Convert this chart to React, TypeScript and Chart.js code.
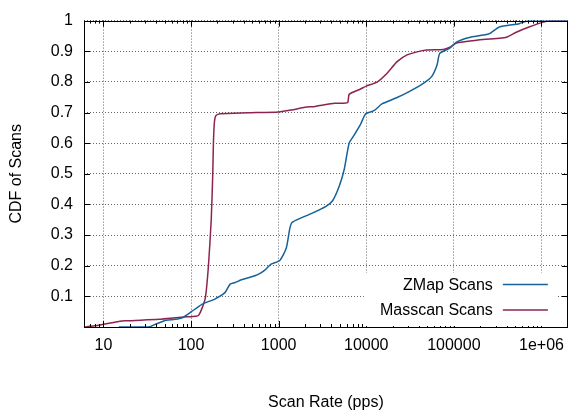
import React, { useEffect, useRef } from 'react';
import { Chart, registerables } from 'chart.js';

Chart.register(...registerables);

// ---- data ----
const zmapRate = [15, 33, 40, 52, 66, 78, 100, 133, 189, 245, 279, 318, 375, 480, 585, 690, 820, 1030, 1220, 1340, 1420, 1810, 2350, 3470, 4130, 4920, 5600, 6380, 7270, 8650, 9860, 12250, 15100, 22500, 31600, 45700, 56000, 64400, 69000, 89000, 107000, 150000, 253000, 330000, 556000, 720000, 2000000];
const zmapCdf = [0, 0, 0.01, 0.022, 0.025, 0.029, 0.049, 0.074, 0.092, 0.113, 0.14, 0.145, 0.154, 0.163, 0.172, 0.185, 0.205, 0.217, 0.257, 0.321, 0.341, 0.356, 0.37, 0.394, 0.412, 0.46, 0.514, 0.6, 0.626, 0.663, 0.696, 0.706, 0.728, 0.749, 0.77, 0.797, 0.818, 0.856, 0.893, 0.909, 0.93, 0.945, 0.957, 0.979, 0.99, 1.0, 1.0];

const masscanRate = [6, 8, 10, 14.4, 18, 43, 78, 113, 122, 133, 146, 158, 170, 177, 180, 185, 192, 215, 446, 1000, 1380, 2000, 2600, 4350, 6100, 6400, 8500, 10000, 13400, 17500, 22500, 29200, 38000, 49000, 76000, 93000, 107000, 182000, 400000, 516000, 720000, 1050000, 1350000, 2000000];
const masscanCdf = [0, 0.004, 0.009, 0.017, 0.02, 0.025, 0.032, 0.035, 0.038, 0.06, 0.097, 0.2, 0.35, 0.5, 0.6, 0.67, 0.69, 0.696, 0.699, 0.702, 0.708, 0.717, 0.72, 0.73, 0.732, 0.76, 0.776, 0.786, 0.8, 0.83, 0.866, 0.888, 0.898, 0.904, 0.906, 0.915, 0.927, 0.936, 0.946, 0.962, 0.979, 0.995, 1.0, 1.0];

const seriesLabels = ['ZMap Scans', 'Masscan Scans'];
const seriesColors = ['#15629a', '#8b2450'];

const xTickValues = [10, 100, 1000, 10000, 100000, 1000000];
const xTickLabels = ['10', '100', '1000', '10000', '100000', '1e+06'];
const yTickValues = [0, 0.1, 0.2, 0.3, 0.4, 0.5, 0.6, 0.7, 0.8, 0.9, 1];
const yTickLabels = ['', '0.1', '0.2', '0.3', '0.4', '0.5', '0.6', '0.7', '0.8', '0.9', '1'];

const xTitle = 'Scan Rate (pps)';
const yTitle = 'CDF of Scans';

const FONT_FAMILY = '"Liberation Sans", Arial, Helvetica, sans-serif';
const FONT_SIZE = 16;

const framePlugin = {
  id: 'gnuplotFrame',
  afterDraw(chart: any) {
    const ctx = chart.ctx;
    const { left, right, top, bottom } = chart.chartArea;
    const xs = chart.scales.x;
    const ys = chart.scales.y;
    ctx.save();
    ctx.strokeStyle = '#000';
    ctx.lineWidth = 1;
    // tick marks (inward, mirrored)
    ctx.beginPath();
    const major = 6;
    const minor = 3;
    for (let d = 1; d <= 6; d++) {
      for (let m = 1; m <= 9; m++) {
        const v = m * Math.pow(10, d);
        const px = Math.round(xs.getPixelForValue(v)) + 0.5;
        if (px < left || px > right) continue;
        const len = m === 1 ? major : minor;
        ctx.moveTo(px, bottom);
        ctx.lineTo(px, bottom - len);
        ctx.moveTo(px, top);
        ctx.lineTo(px, top + len);
      }
    }
    // minor ticks below 10
    for (let m = 6; m <= 9; m++) {
      const px = Math.round(xs.getPixelForValue(m)) + 0.5;
      if (px < left) continue;
      ctx.moveTo(px, bottom);
      ctx.lineTo(px, bottom - minor);
      ctx.moveTo(px, top);
      ctx.lineTo(px, top + minor);
    }
    for (const v of yTickValues) {
      const py = Math.round(ys.getPixelForValue(v)) + 0.5;
      ctx.moveTo(left, py);
      ctx.lineTo(left + major, py);
      ctx.moveTo(right, py);
      ctx.lineTo(right - major, py);
    }
    ctx.stroke();

    // legend (opaque key box in lower right)
    const boxL = right - 204;
    const boxR = right - 10;
    const boxT = bottom - 54;
    ctx.fillStyle = '#fff';
    ctx.fillRect(boxL, boxT, boxR - boxL, bottom - boxT - 1);
    ctx.font = `${FONT_SIZE}px ${FONT_FAMILY}`;
    ctx.textAlign = 'right';
    ctx.textBaseline = 'middle';
    const rows = [bottom - 42.5, bottom - 17];
    seriesLabels.forEach((lab, i) => {
      const y = rows[i];
      ctx.fillStyle = '#000';
      ctx.fillText(lab, right - 75, y + 1);
      ctx.strokeStyle = seriesColors[i];
      ctx.lineWidth = 1.5;
      ctx.beginPath();
      ctx.moveTo(right - 65, y);
      ctx.lineTo(right - 20, y);
      ctx.stroke();
    });

    // border
    ctx.strokeStyle = '#000';
    ctx.lineWidth = 1;
    ctx.strokeRect(Math.round(left) + 0.5, Math.round(top) + 0.5, Math.round(right - left) - 1, Math.round(bottom - top));
    ctx.restore();
  },
};

export default function App() {
  const canvasRef = useRef<HTMLCanvasElement | null>(null);

  useEffect(() => {
    if (!canvasRef.current) return;
    const font = { family: FONT_FAMILY, size: FONT_SIZE };
    const chart = new Chart(canvasRef.current, {
      type: 'scatter',
      data: {
        datasets: [
          {
            label: seriesLabels[0],
            data: zmapRate.map((x, i) => ({ x, y: zmapCdf[i] })),
            borderColor: seriesColors[0],
            backgroundColor: seriesColors[0],
            borderWidth: 1.5,
            showLine: true,
            pointRadius: 0,
            tension: 0.2,
          },
          {
            label: seriesLabels[1],
            data: masscanRate.map((x, i) => ({ x, y: masscanCdf[i] })),
            borderColor: seriesColors[1],
            backgroundColor: seriesColors[1],
            borderWidth: 1.5,
            showLine: true,
            pointRadius: 0,
            tension: 0.2,
          },
        ],
      },
      options: {
        responsive: false,
        maintainAspectRatio: false,
        animation: false,
        layout: { padding: { top: 15, right: 1, left: 0, bottom: 0 } },
        plugins: { legend: { display: false }, tooltip: { enabled: false } },
        scales: {
          x: {
            type: 'logarithmic',
            min: 6,
            max: 2000000,
            afterBuildTicks: (s: any) => {
              s.ticks = xTickValues.map((v) => ({ value: v }));
            },
            afterFit: (s: any) => {
              s.height = 88;
            },
            ticks: {
              autoSkip: false,
              maxRotation: 0,
              color: '#000',
              font,
              padding: 9,
              callback: (v: any) => {
                const i = xTickValues.indexOf(Number(v));
                return i >= 0 ? xTickLabels[i] : '';
              },
            },
            grid: { drawTicks: false, color: 'rgba(0,0,0,0.6)', lineWidth: 1 },
            border: { display: false, dash: [1, 2] },
            title: {
              display: true,
              text: xTitle,
              color: '#000',
              font,
              padding: { top: 0, bottom: 2.5 },
            },
          },
          y: {
            type: 'linear',
            min: 0,
            max: 1,
            afterBuildTicks: (s: any) => {
              s.ticks = yTickValues.map((v) => ({ value: v }));
            },
            afterFit: (s: any) => {
              s.width = 84;
            },
            ticks: {
              color: '#000',
              font,
              padding: 11,
              callback: (v: any) => {
                const i = yTickValues.findIndex((t) => Math.abs(t - Number(v)) < 1e-9);
                return i >= 0 ? yTickLabels[i] : '';
              },
            },
            grid: { drawTicks: false, color: 'rgba(0,0,0,0.6)', lineWidth: 1 },
            border: { display: false, dash: [1, 2] },
            title: {
              display: true,
              text: yTitle,
              color: '#000',
              font,
              padding: { top: 7.4, bottom: 0 },
            },
          },
        },
      },
      plugins: [framePlugin],
    } as any);
    return () => chart.destroy();
  }, []);

  return (
    <div style={{ position: 'absolute', left: 0, top: 0, width: 573, height: 415, background: '#fff' }}>
      <canvas ref={canvasRef} width={573} height={415} style={{ display: 'block', width: 573, height: 415 }} />
    </div>
  );
}
